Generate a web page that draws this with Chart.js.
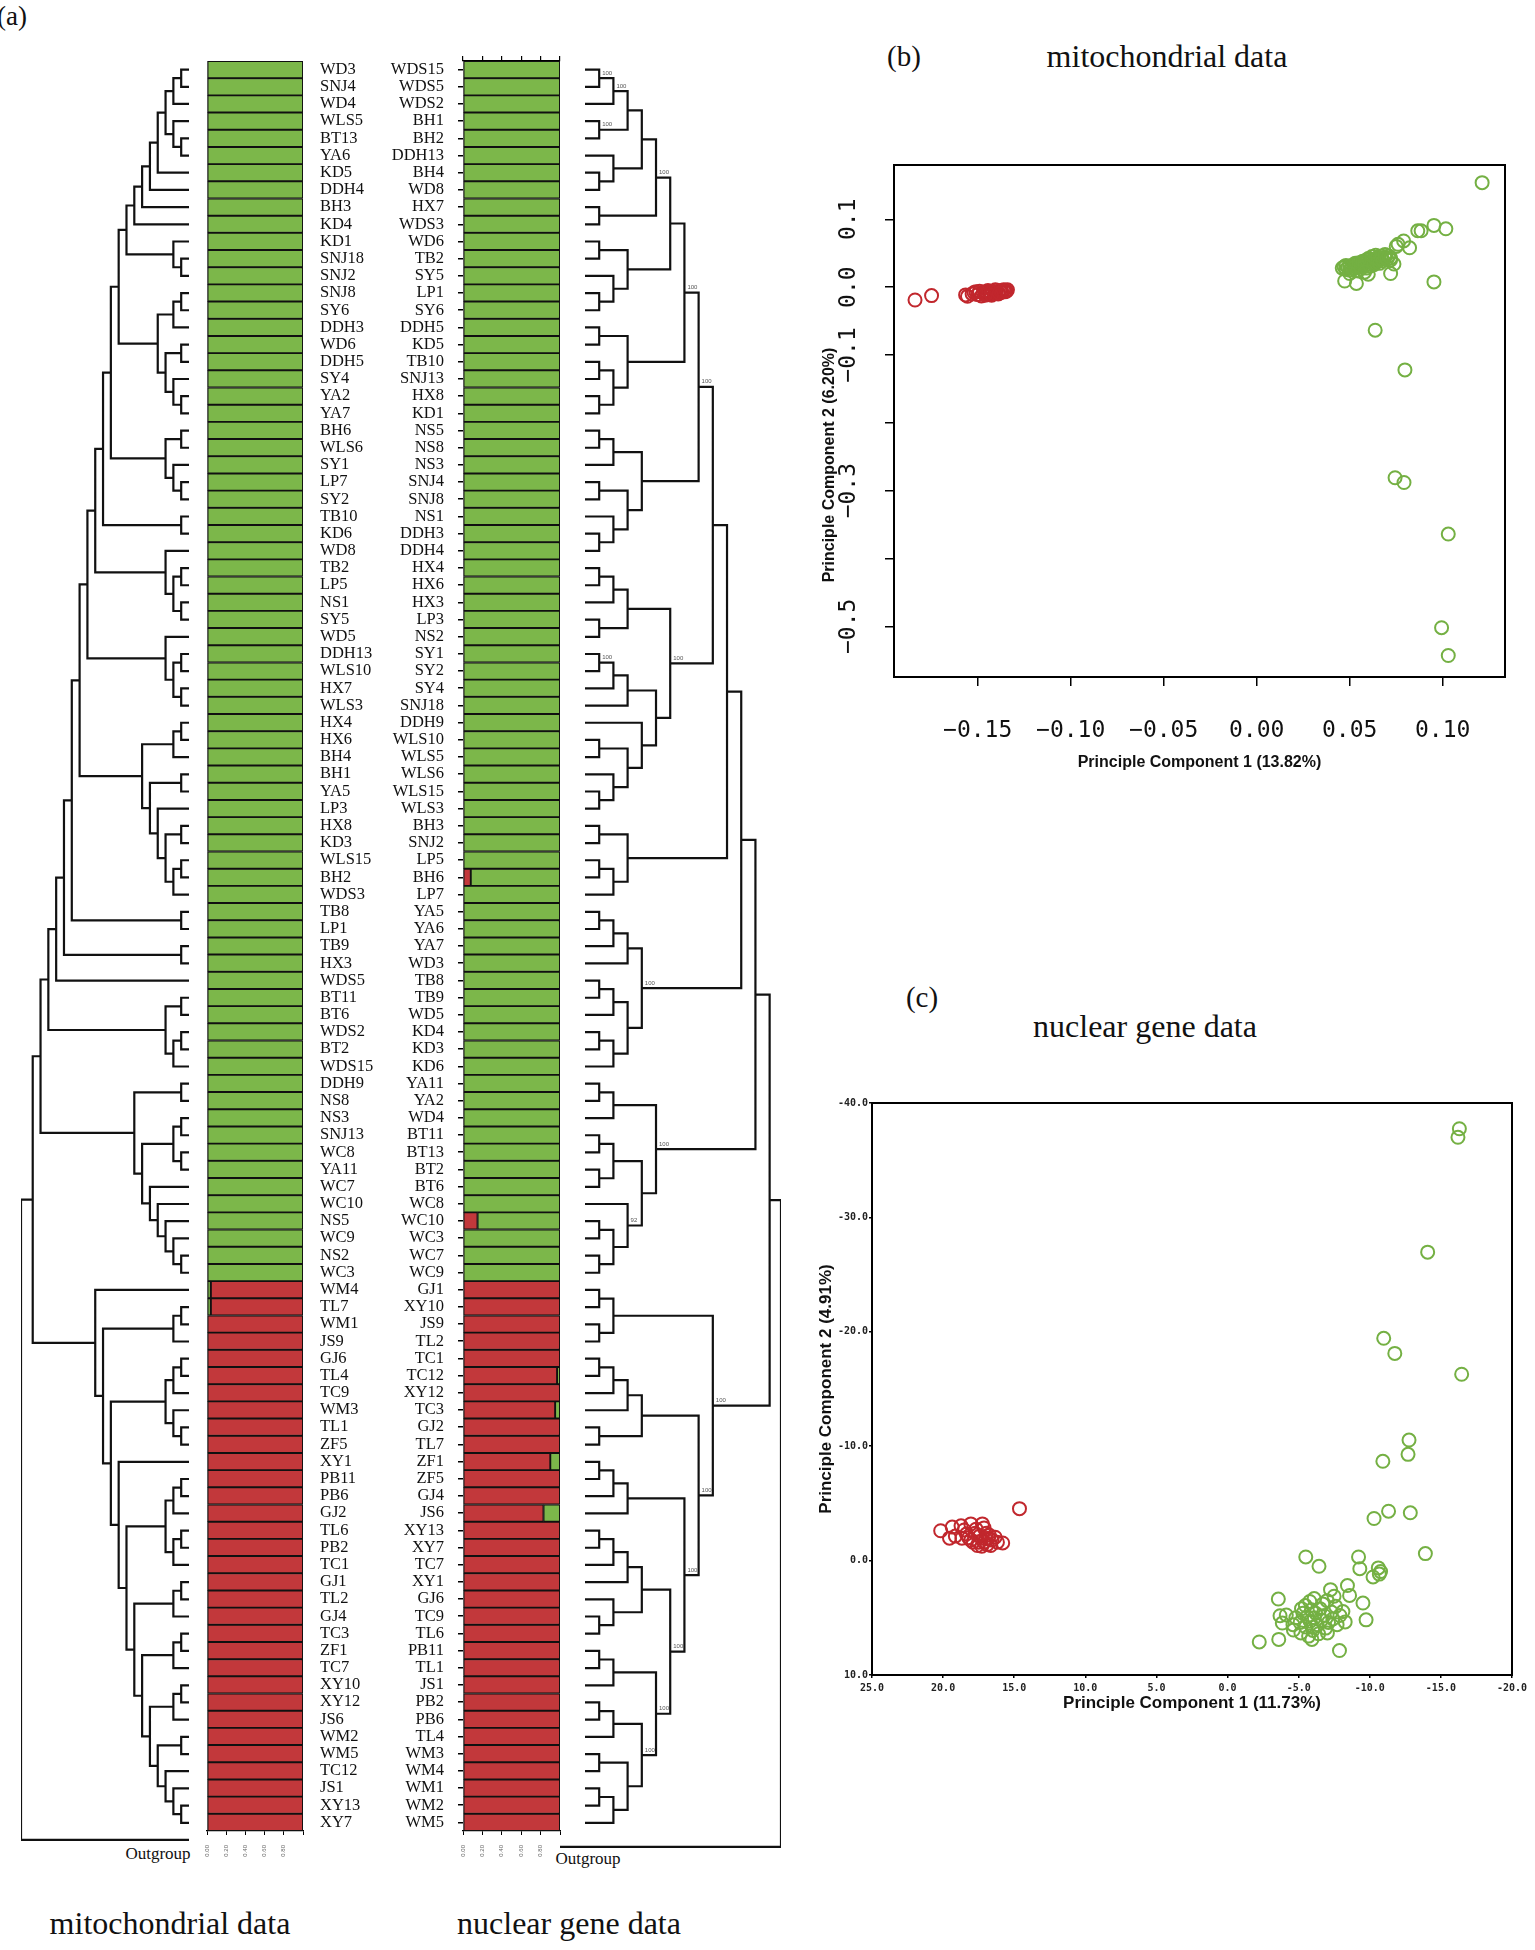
<!DOCTYPE html>
<html>
<head>
<meta charset="utf-8">
<script src="https://cdn.jsdelivr.net/npm/chart.js@4.4.1/dist/chart.umd.min.js"></script>
<style>
html,body{margin:0;padding:0;background:#fff;}
body{width:1535px;height:1950px;position:relative;overflow:hidden;font-family:'Liberation Serif','Times New Roman',serif;color:#111;}
canvas{position:absolute;}
.t{position:absolute;white-space:nowrap;transform:translate(-50%,-50%);line-height:1;}
</style>
</head>
<body>
<div class="t" style="left:12px;top:16px;font-size:27px;">(a)</div>
<div class="t" style="left:904px;top:56px;font-size:29px;">(b)</div>
<div class="t" style="left:1167px;top:56px;font-size:32px;">mitochondrial data</div>
<div class="t" style="left:922px;top:997px;font-size:29px;">(c)</div>
<div class="t" style="left:1145px;top:1026px;font-size:32px;">nuclear gene data</div>
<div class="t" style="left:170px;top:1923px;font-size:32px;">mitochondrial data</div>
<div class="t" style="left:569px;top:1923px;font-size:32px;">nuclear gene data</div>
<div class="t" style="left:158px;top:1853px;font-size:17px;">Outgroup</div>
<div class="t" style="left:588px;top:1858px;font-size:17px;">Outgroup</div>

<canvas id="treeL" width="174" height="1797" style="left:18px;top:58px"></canvas>
<canvas id="barL" width="180" height="1813" style="left:200px;top:58px"></canvas>
<canvas id="barR" width="195" height="1816" style="left:370px;top:55px"></canvas>
<canvas id="treeR" width="227" height="1797" style="left:557px;top:58px"></canvas>
<canvas id="pcaM" width="735" height="647" style="left:800px;top:140px"></canvas>
<canvas id="pcaN" width="735" height="640" style="left:800px;top:1080px"></canvas>

<script>
// ---------------- DATA ----------------
const mitoLabels = ['WD3','SNJ4','WD4','WLS5','BT13','YA6','KD5','DDH4','BH3','KD4','KD1','SNJ18','SNJ2','SNJ8','SY6','DDH3','WD6','DDH5','SY4','YA2','YA7','BH6','WLS6','SY1','LP7','SY2','TB10','KD6','WD8','TB2','LP5','NS1','SY5','WD5','DDH13','WLS10','HX7','WLS3','HX4','HX6','BH4','BH1','YA5','LP3','HX8','KD3','WLS15','BH2','WDS3','TB8','LP1','TB9','HX3','WDS5','BT11','BT6','WDS2','BT2','WDS15','DDH9','NS8','NS3','SNJ13','WC8','YA11','WC7','WC10','NS5','WC9','NS2','WC3','WM4','TL7','WM1','JS9','GJ6','TL4','TC9','WM3','TL1','ZF5','XY1','PB11','PB6','GJ2','TL6','PB2','TC1','GJ1','TL2','GJ4','TC3','ZF1','TC7','XY10','XY12','JS6','WM2','WM5','TC12','JS1','XY13','XY7'];

const nucLabels = ['WDS15','WDS5','WDS2','BH1','BH2','DDH13','BH4','WD8','HX7','WDS3','WD6','TB2','SY5','LP1','SY6','DDH5','KD5','TB10','SNJ13','HX8','KD1','NS5','NS8','NS3','SNJ4','SNJ8','NS1','DDH3','DDH4','HX4','HX6','HX3','LP3','NS2','SY1','SY2','SY4','SNJ18','DDH9','WLS10','WLS5','WLS6','WLS15','WLS3','BH3','SNJ2','LP5','BH6','LP7','YA5','YA6','YA7','WD3','TB8','TB9','WD5','KD4','KD3','KD6','YA11','YA2','WD4','BT11','BT13','BT2','BT6','WC8','WC10','WC3','WC7','WC9','GJ1','XY10','JS9','TL2','TC1','TC12','XY12','TC3','GJ2','TL7','ZF1','ZF5','GJ4','JS6','XY13','XY7','TC7','XY1','GJ6','TC9','TL6','PB11','TL1','JS1','PB2','PB6','TL4','WM3','WM4','WM1','WM2','WM5'];

// ancestry proportions (mitochondrial panel)
const mitoGreen = [
1,1,1,1,1,1,1,1,1,1, 1,1,1,1,1,1,1,1,1,1, 1,1,1,1,1,1,1,1,1,1,
1,1,1,1,1,1,1,1,1,1, 1,1,1,1,1,1,1,1,1,1, 1,1,1,1,1,1,1,1,1,1,
1,1,1,1,1,1,1,1,1,1, 1,0.04,0.04,0,0,0,0,0,0,0, 0,0,0,0,0,0,0,0,0,0,
0,0,0,0,0,0,0,0,0,0, 0,0,0];
const mitoRed = [
0,0,0,0,0,0,0,0,0,0, 0,0,0,0,0,0,0,0,0,0, 0,0,0,0,0,0,0,0,0,0,
0,0,0,0,0,0,0,0,0,0, 0,0,0,0,0,0,0,0,0,0, 0,0,0,0,0,0,0,0,0,0,
0,0,0,0,0,0,0,0,0,0, 0,0.96,0.96,1,1,1,1,1,1,1, 1,1,1,1,1,1,1,1,1,1,
1,1,1,1,1,1,1,1,1,1, 1,1,1];
// ancestry proportions (nuclear panel)
const nucRed = [
0,0,0,0,0,0,0,0,0,0, 0,0,0,0,0,0,0,0,0,0, 0,0,0,0,0,0,0,0,0,0,
0,0,0,0,0,0,0,0,0,0, 0,0,0,0,0,0,0,0.08,0,0, 0,0,0,0,0,0,0,0,0,0,
0,0,0,0,0,0,0,0.15,0,0, 0,1,1,1,1,1,0.97,1,0.95,1, 1,0.90,1,1,0.83,1,1,1,1,1,
1,1,1,1,1,1,1,1,1,1, 1,1,1];
const nucGreen = [
1,1,1,1,1,1,1,1,1,1, 1,1,1,1,1,1,1,1,1,1, 1,1,1,1,1,1,1,1,1,1,
1,1,1,1,1,1,1,1,1,1, 1,1,1,1,1,1,1,0.92,1,1, 1,1,1,1,1,1,1,1,1,1,
1,1,1,1,1,1,1,0.85,1,1, 1,0,0,0,0,0,0.03,0,0.05,0, 0,0.10,0,0,0.17,0,0,0,0,0,
0,0,0,0,0,0,0,0,0,0, 0,0,0];
const propTicks = [0, 0.2, 0.4, 0.6, 0.8, 1.0];
const propTickLabels = ['0.00','0.20','0.40','0.60','0.80',''];

// mitochondrial tree: node = [height, childA, childB], leaf = row index
const mT1 = [3, [2, [1, 0, 1], 2], [2, 3, [1, 4, 5]]];
const mT6 = [8, [7, [6, [5, [4, mT1, 6], 7], 8], 9], [2, 10, [1, 11, 12]]];
const mU = [4, [2, [1, 13, 14], 15], [3, [1, 16, 17], [2, 18, [1, 19, 20]]]];
const mV = [3, [1, 21, 22], [2, 23, [1, 24, 25]]];
const mW = [3, 28, [2, [1, 29, 30], [1, 31, 32]]];
const mX = [3, 33, [2, [1, 34, 35], [1, 36, 37]]];
const mY = [6, [2, [1, 38, 39], 40], [5, [1, 41, 42], [4, 43, [3, [1, 44, 45], [2, [1, 46, 47], 48]]]]];
const mZ = [3, [1, 54, 55], [2, [1, 56, 57], 58]];
const mQ = [7, [1, 59, 60], [6, [2, [1, 61, 62], [1, 63, 64]], [5, 65, [4, 66, [3, 67, [2, 68, [1, 69, 70]]]]]]];
const mPin = [4, [1, 97, 98], [3, 99, [2, 100, [1, 101, 102]]]];
const mPa = [7, [2, [1, 88, 89], 90], [6, [2, [1, 91, 92], 93], [5, [2, [1, 94, 95], 96], mPin]]];
const mP = [12, 71,
  [11, [2, [1, 72, 73], 74],
    [10, [3, [2, [1, 75, 76], 77], [2, 78, [1, 79, 80]]],
      [9, 81,
        [8, [3, [2, [1, 82, 83], 84], [2, [1, 85, 86], 87]], mPa]]]]];
const mS11 = [11, [10, [9, mT6, mU], mV], [1, 26, 27]];
const mS14 = [14, [13, [12, mS11, mW], mX], mY];
const mS17 = [17, [16, [15, mS14, [1, 49, 50]], [1, 51, 52]], 53];
const mitoTree = [21.5, [20, [19, [18, mS17, mZ], mQ], mP], {row: 103}];

// nuclear tree (with bootstrap labels)
const nA1 = [3, [2, [1, 0, 1, '100'], 2, '100'], [1, 3, 4, '100']];
const nA4 = [5, [4, nA1, [2, 5, [1, 6, 7]]], [1, 8, 9], '100'];
const nB = [3, [1, 10, 11], [2, 12, [1, 13, 14]]];
const nC = [3, [1, 15, 16], [2, [1, 17, 18], [1, 19, 20]]];
const nD = [4, [2, [1, 21, 22], 23], [3, [1, 24, 25], [2, 26, [1, 27, 28]]]];
const nA7 = [8, [7, [6, nA4, nB], nC, '100'], nD, '100'];
const nE = [6, [3, [2, [1, 29, 30], 31], [1, 32, 33]],
  [5, [3, [2, [1, 34, 35, '100'], 36], 37], [4, 38, [3, [1, 39, 40], [2, 41, [1, 42, 43]]]]], '100'];
const nF = [3, [1, 44, 45], [2, [1, 46, 47], 48]];
const nG = [4, [3, [2, [1, 49, 50], 51], 52], [3, [2, [1, 53, 54], 55], [2, [1, 56, 57], 58]], '100'];
const nH = [5, [2, [1, 59, 60], 61], [4, [2, [1, 62, 63], [1, 64, 65]], [3, 66, [2, [1, 67, 68], [1, 69, 70]], '92']], '100'];
const nGreen = [12, [11, [10, [9, nA7, nE], nF], nG], nH];
const nR4 = [4, [2, [1, 95, 96], 97], [3, [1, 98, 99], [2, [1, 100, 101], 102]], '100'];
const nR6 = [6, [4, [3, [2, [1, 85, 86], 87], 88], [2, 89, [1, 90, 91]]], [5, [2, [1, 92, 93], 94], nR4, '100'], '100'];
const nRed = [9, [2, [1, 71, 72], [1, 73, 74]],
  [8, [4, [3, [2, [1, 75, 76], 77], 78], [1, 79, 80]],
    [7, [3, [2, [1, 81, 82], 83], 84], nR6, '100'], '100'], '100'];
const nucTree = [13.8, [13, nGreen, nRed], {row: 103.4, h: -1.76}];

// PCA, mitochondrial data
const mitoPcaRed = [
{x:-0.1837,y:-0.019},{x:-0.1748,y:-0.0125},{x:-0.1565,y:-0.0115},{x:-0.1555,y:-0.0135},{x:-0.152,y:-0.008},
{x:-0.150,y:-0.011},{x:-0.149,y:-0.006},{x:-0.148,y:-0.013},{x:-0.147,y:-0.009},{x:-0.146,y:-0.007},
{x:-0.145,y:-0.011},{x:-0.1445,y:-0.005},{x:-0.144,y:-0.008},{x:-0.143,y:-0.010},{x:-0.142,y:-0.006},
{x:-0.141,y:-0.009},{x:-0.1405,y:-0.004},{x:-0.140,y:-0.007},{x:-0.139,y:-0.010},{x:-0.138,y:-0.005},
{x:-0.1375,y:-0.008},{x:-0.137,y:-0.006},{x:-0.136,y:-0.004},{x:-0.1355,y:-0.007},{x:-0.135,y:-0.005},
{x:-0.1345,y:-0.006},{x:-0.134,y:-0.004},{x:-0.146,y:-0.012},{x:-0.1425,y:-0.012},{x:-0.1385,y:-0.009},
{x:-0.153,y:-0.010},{x:-0.151,y:-0.007}];
const mitoPcaGreen = [
{x:0.1212,y:0.154},{x:0.0953,y:0.091},{x:0.1017,y:0.086},{x:0.0866,y:0.083},{x:0.0884,y:0.083},
{x:0.0822,y:0.058},{x:0.0790,y:0.068},{x:0.0750,y:0.060},{x:0.0760,y:0.063},{x:0.0720,y:0.040},
{x:0.0738,y:0.034},{x:0.0720,y:0.020},{x:0.0473,y:0.009},{x:0.0536,y:0.0055},{x:0.0600,y:0.019},
{x:0.0953,y:0.0077},{x:0.0637,y:-0.0635},{x:0.0797,y:-0.122},{x:0.0744,y:-0.281},{x:0.0792,y:-0.288},
{x:0.1030,y:-0.364},{x:0.0994,y:-0.502},{x:0.1030,y:-0.543},
{x:0.046,y:0.028},{x:0.047,y:0.030},{x:0.048,y:0.026},{x:0.048,y:0.032},{x:0.049,y:0.029},
{x:0.050,y:0.031},{x:0.050,y:0.025},{x:0.051,y:0.028},{x:0.052,y:0.033},{x:0.052,y:0.027},
{x:0.053,y:0.030},{x:0.053,y:0.035},{x:0.054,y:0.029},{x:0.054,y:0.024},{x:0.055,y:0.032},
{x:0.055,y:0.036},{x:0.056,y:0.030},{x:0.056,y:0.027},{x:0.057,y:0.034},{x:0.057,y:0.038},
{x:0.058,y:0.031},{x:0.058,y:0.036},{x:0.059,y:0.040},{x:0.059,y:0.028},{x:0.060,y:0.034},
{x:0.060,y:0.042},{x:0.061,y:0.037},{x:0.061,y:0.031},{x:0.062,y:0.040},{x:0.062,y:0.045},
{x:0.063,y:0.036},{x:0.063,y:0.033},{x:0.064,y:0.041},{x:0.064,y:0.047},{x:0.065,y:0.038},
{x:0.065,y:0.044},{x:0.066,y:0.040},{x:0.066,y:0.035},{x:0.067,y:0.046},{x:0.067,y:0.042},
{x:0.068,y:0.039},{x:0.069,y:0.044},{x:0.069,y:0.048},{x:0.070,y:0.041},{x:0.071,y:0.046},
{x:0.072,y:0.043},{x:0.050,y:0.020},{x:0.058,y:0.022}];
const mitoPcaXTicks = [-0.15, -0.10, -0.05, 0, 0.05, 0.10];
const mitoPcaXLabels = ['\u22120.15','\u22120.10','\u22120.05','0.00','0.05','0.10'];
const mitoPcaYTicks = [0.1, 0, -0.1, -0.2, -0.3, -0.4, -0.5];
const mitoPcaYLabels = ['0.1','0.0','\u22120.1','','\u22120.3','','\u22120.5'];

// PCA, nuclear gene data
const nucPcaRed = [
{x:20.17,y:-2.61},{x:19.55,y:-1.96},{x:19.36,y:-2.93},{x:18.74,y:-3.04},{x:18.05,y:-3.21},
{x:17.24,y:-3.21},{x:17.12,y:-2.86},{x:18.68,y:-1.96},{x:18.05,y:-1.79},{x:17.59,y:-1.32},
{x:17.12,y:-1.61},{x:16.65,y:-1.32},{x:16.34,y:-2.04},{x:15.81,y:-1.54},{x:14.63,y:-4.54},
{x:17.43,y:-2.14},{x:16.81,y:-1.96},{x:18.36,y:-2.32},{x:17.74,y:-2.39},{x:19.14,y:-2.14},
{x:16.96,y:-2.39},{x:16.56,y:-1.79},{x:17.9,y:-1.61},{x:17.28,y:-1.25},{x:16.18,y:-1.61},
{x:18.52,y:-2.68},{x:17.68,y:-2.75},{x:16.74,y:-2.21},{x:18.2,y:-2.0},{x:17.0,y:-1.9},
{x:17.5,y:-1.6},{x:16.9,y:-1.4}];
const nucPcaGreen = [
{x:-16.3,y:-37.75},{x:-16.2,y:-37.0},{x:-14.07,y:-26.96},{x:-16.46,y:-16.29},{x:-10.98,y:-19.43},
{x:-11.76,y:-18.11},{x:-12.76,y:-10.54},{x:-12.69,y:-9.29},{x:-10.92,y:-8.68},{x:-10.30,y:-3.68},
{x:-11.32,y:-4.32},{x:-12.85,y:-4.18},{x:-13.91,y:-0.61},{x:-5.5,y:-0.32},{x:-6.43,y:0.5},
{x:-9.21,y:-0.32},{x:-9.30,y:0.71},{x:-10.6,y:0.64},{x:-10.76,y:0.96},{x:-10.23,y:1.43},
{x:-10.67,y:1.18},
{x:-3.57,y:3.36},{x:-7.24,y:2.54},{x:-8.43,y:2.18},{x:-7.49,y:3.11},{x:-8.58,y:3.04},
{x:-9.52,y:3.71},{x:-6.09,y:3.32},{x:-5.47,y:3.93},{x:-5.78,y:3.57},{x:-8.11,y:4.46},
{x:-8.27,y:5.36},{x:-9.74,y:5.18},{x:-3.69,y:4.82},{x:-4.13,y:4.75},{x:-3.85,y:5.46},
{x:-4.63,y:6.07},{x:-5.16,y:6.32},{x:-5.93,y:6.89},{x:-6.03,y:5.82},{x:-7.02,y:6.32},
{x:-2.23,y:7.11},{x:-3.6,y:6.89},{x:-7.87,y:7.86},
{x:-4.8,y:5.0},{x:-5.1,y:5.4},{x:-5.3,y:4.6},{x:-5.5,y:5.8},{x:-5.6,y:4.9},
{x:-5.8,y:5.3},{x:-5.9,y:4.3},{x:-6.0,y:6.1},{x:-6.1,y:5.0},{x:-6.2,y:4.6},
{x:-6.3,y:5.6},{x:-6.4,y:6.4},{x:-6.5,y:4.2},{x:-6.6,y:5.2},{x:-6.8,y:4.8},
{x:-6.9,y:5.9},{x:-7.1,y:5.4},{x:-7.3,y:4.5},{x:-7.4,y:5.1},{x:-7.6,y:4.0},
{x:-7.7,y:5.6},{x:-7.9,y:4.8},{x:-5.2,y:4.2},{x:-4.6,y:5.6},{x:-6.7,y:3.8},
{x:-5.7,y:6.6},{x:-7.0,y:3.5}];
const nucPcaXTicks = [25, 20, 15, 10, 5, 0, -5, -10, -15, -20];
const nucPcaXLabels = ['25.0','20.0','15.0','10.0','5.0','0.0','-5.0','-10.0','-15.0','-20.0'];
const nucPcaYTicks = [-40, -30, -20, -10, 0, 10];
const nucPcaYLabels = ['-40.0','-30.0','-20.0','-10.0','0.0','10.0'];

// ---------------- STYLE ----------------
const GREEN_BAR = '#7cb74a', RED_BAR = '#c2383b';
const GREEN_PT = '#74b043', RED_PT = '#c1272d';

Chart.defaults.font.family = "'Liberation Serif', serif";
Chart.defaults.color = '#111';
const baseOpts = {animation:false, responsive:false, events:[], plugins:{legend:{display:false}, tooltip:{enabled:false}}};

// fix an axis box size and remove the edge-label padding Chart.js reserves
function fixW(w) { return s => { s.width = w; s.paddingTop = 0; s.paddingBottom = 0; s.paddingLeft = 0; s.paddingRight = 0; }; }
function fixH(h) { return s => { s.height = h; s.paddingTop = 0; s.paddingBottom = 0; s.paddingLeft = 0; s.paddingRight = 0; }; }

function treeSegments(tree) {
  const pts = [], labs = [];
  function walk(n) {
    if (typeof n === 'number') return {h:0, y:n};
    if (!Array.isArray(n)) return {h: n.h || 0, y: n.row};
    const A = walk(n[1]), B = walk(n[2]);
    pts.push({x:A.h, y:A.y}, {x:n[0], y:A.y}, {x:n[0], y:B.y}, {x:B.h, y:B.y}, {x:null, y:null});
    const y = (A.y + B.y) / 2;
    if (n[3]) labs.push({x:n[0], y:y, t:n[3]});
    return {h:n[0], y:y};
  }
  walk(tree);
  return {pts, labs};
}

const bootPlugin = {
  id:'boot',
  afterDatasetsDraw(chart) {
    const labs = chart.options.plugins.boot && chart.options.plugins.boot.labels;
    if (!labs) return;
    const ctx = chart.ctx, xs = chart.scales.x, ys = chart.scales.y;
    ctx.save();
    ctx.font = "6px 'Liberation Sans'";
    ctx.fillStyle = '#555';
    ctx.textBaseline = 'bottom';
    labs.forEach(l => ctx.fillText(l.t, xs.getPixelForValue(l.x) + 3, ys.getPixelForValue(l.y) - 2));
    ctx.restore();
  }
};

const framePlugin = {
  id:'frame',
  afterDraw(chart) {
    const {ctx, chartArea:a} = chart;
    ctx.save();
    ctx.strokeStyle = '#000';
    ctx.lineWidth = 2;
    ctx.strokeRect(a.left, a.top, a.right - a.left, a.bottom - a.top);
    ctx.restore();
  }
};

function treeChart(id, tree, xmin, xmax, reverse) {
  const seg = treeSegments(tree);
  return new Chart(document.getElementById(id), {
    type:'scatter',
    data:{datasets:[{data:seg.pts, showLine:true, spanGaps:false, borderColor:'#111', borderWidth:2.2,
      pointRadius:0, borderJoinStyle:'miter', borderCapStyle:'butt', tension:0}]},
    options:Object.assign({}, baseOpts, {
      layout:{padding:{left:3, right:3, top:3, bottom:3}},
      plugins:{legend:{display:false}, tooltip:{enabled:false}, boot:{labels:seg.labs}},
      scales:{
        x:{type:'linear', display:false, min:xmin, max:xmax, reverse:reverse},
        y:{type:'linear', display:false, min:-0.5, max:103.7, reverse:true}
      }
    }),
    plugins:[bootPlugin]
  });
}

function barDataset(vals, color) {
  return {data:vals, backgroundColor:color, borderColor:'#111', borderWidth:1.3, borderSkipped:false,
    barPercentage:1, categoryPercentage:1};
}
const propXAxis = {
  type:'linear', stacked:true, min:0, max:1, position:'bottom',
  afterBuildTicks: s => { s.ticks = propTicks.map(v => ({value:v})); },
  afterFit: fixH(40),
  grid:{display:true, drawOnChartArea:false, drawTicks:true, tickLength:4, color:'#000', lineWidth:1},
  border:{display:true, color:'#000', width:1.3},
  ticks:{minRotation:90, maxRotation:90, padding:10, font:{size:6, family:'Liberation Sans'}, color:'#666',
    callback:(v, i) => propTickLabels[i]}
};

// ---------------- CHARTS ----------------
treeChart('treeL', mitoTree, 0, 21.5, true);
treeChart('treeR', nucTree, -1.76, 13.8, false);

new Chart(document.getElementById('barL'), {
  type:'bar',
  data:{labels:mitoLabels, datasets:[barDataset(mitoGreen, GREEN_BAR), barDataset(mitoRed, RED_BAR)]},
  options:Object.assign({}, baseOpts, {
    indexAxis:'y',
    layout:{padding:{left:7, top:3, right:0, bottom:0}},
    scales:{
      x:propXAxis,
      y:{type:'category', stacked:true, position:'right',
        afterFit: fixW(77),
        grid:{display:false}, border:{display:false},
        ticks:{autoSkip:false, padding:9, font:{size:16.5}, color:'#111'}}
    }
  })
});

new Chart(document.getElementById('barR'), {
  type:'bar',
  data:{labels:nucLabels, datasets:[barDataset(nucRed, RED_BAR), barDataset(nucGreen, GREEN_BAR)]},
  options:Object.assign({}, baseOpts, {
    indexAxis:'y',
    layout:{padding:{left:0, top:1, right:5, bottom:0}},
    scales:{
      x:propXAxis,
      x2:{type:'linear', position:'top', min:0, max:1,
        afterBuildTicks: s => { s.ticks = propTicks.map(v => ({value:v})); },
        afterFit: fixH(5),
        grid:{display:true, drawOnChartArea:false, drawTicks:true, tickLength:5, color:'#000', lineWidth:1.2},
        border:{display:true, color:'#000', width:1.3},
        ticks:{display:false}},
      y:{type:'category', stacked:true, position:'left',
        afterFit: fixW(93),
        grid:{display:true, offset:false, drawOnChartArea:false, drawTicks:true, tickLength:5, color:'#000', lineWidth:1.5},
        border:{display:false},
        ticks:{autoSkip:false, padding:14, font:{size:16.5}, color:'#111'}}
    }
  })
});

const tickGrid = (len) => ({display:true, drawOnChartArea:false, drawTicks:true, tickLength:len, color:'#000', lineWidth:1.5});

new Chart(document.getElementById('pcaM'), {
  type:'scatter',
  data:{datasets:[
    {data:mitoPcaRed, borderColor:RED_PT, backgroundColor:'rgba(0,0,0,0)', pointRadius:6.5, borderWidth:2},
    {data:mitoPcaGreen, borderColor:GREEN_PT, backgroundColor:'rgba(0,0,0,0)', pointRadius:6.5, borderWidth:2}]},
  options:Object.assign({}, baseOpts, {
    layout:{padding:{left:0, top:25, right:30, bottom:0}},
    scales:{
      x:{type:'linear', min:-0.195, max:0.1335,
        afterBuildTicks: s => { s.ticks = mitoPcaXTicks.map(v => ({value:v})); },
        afterFit: fixH(110),
        grid:tickGrid(9), border:{display:false},
        ticks:{padding:31, minRotation:0, maxRotation:0, font:{family:'DejaVu Sans Mono', size:23}, color:'#111',
          callback:(v, i) => mitoPcaXLabels[i]},
        title:{display:true, text:'Principle Component 1 (13.82%)', color:'#111',
          font:{family:'Liberation Sans', size:16, weight:'bold'}, padding:{top:0, bottom:14.4}}},
      y:{type:'linear', min:-0.5747, max:0.18,
        afterBuildTicks: s => { s.ticks = mitoPcaYTicks.map(v => ({value:v})); },
        afterFit: fixW(94),
        grid:tickGrid(9), border:{display:false},
        ticks:{minRotation:90, maxRotation:90, crossAlign:'center', padding:8,
          font:{family:'DejaVu Sans Mono', size:23}, color:'#111',
          callback:(v, i) => mitoPcaYLabels[i]},
        title:{display:true, text:'Principle Component 2 (6.20%)' + '\u2002'.repeat(11), color:'#111',
          font:{family:'Liberation Sans', size:16, weight:'bold'}, padding:{top:20, bottom:0}}}
    }
  }),
  plugins:[framePlugin]
});

new Chart(document.getElementById('pcaN'), {
  type:'scatter',
  data:{datasets:[
    {data:nucPcaRed, borderColor:RED_PT, backgroundColor:'rgba(0,0,0,0)', pointRadius:6.5, borderWidth:2},
    {data:nucPcaGreen, borderColor:GREEN_PT, backgroundColor:'rgba(0,0,0,0)', pointRadius:6.5, borderWidth:2}]},
  options:Object.assign({}, baseOpts, {
    layout:{padding:{left:0, top:23, right:23, bottom:0}},
    scales:{
      x:{type:'linear', min:-20, max:25, reverse:true,
        afterBuildTicks: s => { s.ticks = nucPcaXTicks.map(v => ({value:v})); },
        afterFit: fixH(45),
        grid:tickGrid(3), border:{display:false},
        ticks:{padding:4, minRotation:0, maxRotation:0, font:{family:'DejaVu Sans Mono', size:10, weight:'bold'}, color:'#222',
          callback:(v, i) => nucPcaXLabels[i]},
        title:{display:true, text:'Principle Component 1 (11.73%)', color:'#111',
          font:{family:'Liberation Sans', size:17, weight:'bold'}, padding:{top:0, bottom:6}}},
      y:{type:'linear', min:-40, max:10, reverse:true,
        afterBuildTicks: s => { s.ticks = nucPcaYTicks.map(v => ({value:v})); },
        afterFit: fixW(72),
        grid:tickGrid(3), border:{display:false},
        ticks:{padding:1, font:{family:'DejaVu Sans Mono', size:10, weight:'bold'}, color:'#222',
          callback:(v, i) => nucPcaYLabels[i]},
        title:{display:true, text:'Principle Component 2 (4.91%)', color:'#111',
          font:{family:'Liberation Sans', size:17, weight:'bold'}, padding:{top:16, bottom:0}}}
    }
  }),
  plugins:[framePlugin]
});
</script>
</body>
</html>
